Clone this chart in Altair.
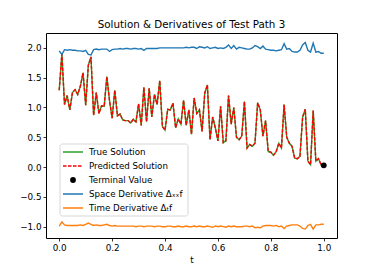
import altair as alt
import numpy as np
import pandas as pd

t = np.round(np.linspace(0.0, 1.0, 101), 2)

true_solution = [
    1.29, 1.90, 1.05, 1.20, 0.96, 1.25, 1.30, 1.22, 1.36, 1.58,
    1.04, 1.71, 1.85, 0.87, 1.25, 0.90, 1.03, 1.02, 1.52, 1.12,
    0.82, 1.29, 0.86, 0.89, 0.79, 0.78, 0.78, 0.74, 0.80, 0.76,
    1.06, 0.70, 1.34, 0.76, 1.32, 0.84, 1.22, 1.05, 1.45, 0.68,
    0.62, 0.97, 0.96, 1.07, 0.66, 0.81, 0.72, 1.12, 0.70, 0.96,
    0.55, 1.16, 0.90, 0.96, 0.60, 1.24, 1.38, 0.46, 0.84, 0.66,
    0.44, 1.02, 0.41, 0.44, 1.20, 0.72, 1.00, 0.50, 0.46, 0.52,
    1.10, 0.32, 0.38, 0.35, 0.40, 1.08, 0.96, 0.52, 0.78, 0.26,
    0.25, 0.20, 0.26, 0.40, 0.32, 1.05, 0.50, 0.40, 0.35, 0.15,
    0.14, 0.18, 0.84, 0.97, 0.10, 0.04, 0.95, 0.10, 0.14, 0.04,
    0.06,
]
predicted_solution = list(true_solution)

space_derivative = [
    1.95, 1.89, 1.97, 1.96, 1.97, 1.96, 1.96, 1.95, 1.95, 1.94,
    1.96, 1.89, 1.88, 1.97, 1.98, 1.97, 1.98, 1.98, 1.98, 1.94,
    1.97, 1.98, 1.98, 1.99, 1.98, 1.99, 1.99, 1.98, 1.99, 1.99,
    1.98, 1.99, 1.96, 1.99, 1.99, 1.99, 1.99, 1.99, 2.00, 2.00,
    2.00, 2.00, 2.00, 2.00, 2.00, 2.00, 2.00, 2.00, 2.01, 2.00,
    2.01, 2.01, 1.99, 2.02, 2.01, 2.00, 2.02, 1.99, 2.00, 2.01,
    1.99, 2.00, 1.99, 2.01, 2.05, 1.99, 2.04, 1.98, 2.01, 2.00,
    1.99, 1.98, 1.98, 2.00, 2.04, 2.02, 1.99, 2.03, 1.98, 1.97,
    1.96, 1.96, 1.95, 1.96, 1.97, 2.07, 1.98, 1.99, 1.94, 1.93,
    1.93, 1.96, 2.05, 2.09, 1.96, 1.93, 2.08, 1.93, 1.94, 1.91,
    1.91,
]

time_derivative = [
    -0.99, -0.92, -0.97, -0.98, -0.98, -0.98, -0.98, -0.98, -0.97, -0.98,
    -0.96, -0.94, -0.96, -0.98, -0.97, -0.98, -0.98, -0.97, -0.96, -0.98,
    -0.99, -0.98, -0.99, -0.99, -0.99, -0.99, -0.99, -0.99, -0.99, -1.00,
    -0.99, -0.99, -1.00, -0.99, -0.99, -0.99, -1.00, -0.99, -0.99, -1.00,
    -1.00, -0.99, -0.99, -1.00, -1.00, -0.99, -1.00, -1.00, -0.99, -1.00,
    -1.00, -0.99, -1.00, -0.99, -1.00, -1.00, -0.99, -1.00, -1.01, -0.99,
    -1.00, -0.99, -1.00, -1.01, -0.99, -1.00, -0.99, -1.00, -1.00, -1.00,
    -0.99, -0.99, -1.00, -0.99, -1.02, -1.01, -1.02, -0.99, -0.98, -0.98,
    -0.98, -0.99, -0.98, -1.00, -0.99, -1.03, -0.99, -0.98, -0.97, -0.97,
    -0.97, -0.99, -1.03, -1.04, -0.98, -0.96, -1.04, -0.97, -0.97, -0.96,
    -0.96,
]

terminal_t = [1.0]
terminal_value = [0.03]

series_names = [
    "True Solution",
    "Predicted Solution",
    "Terminal Value",
    "Space Derivative \u0394\u2093\u2093f",
    "Time Derivative \u0394\u209cf",
]
series_colors = ["#2ca02c", "#ff0000", "#000000", "#1f77b4", "#ff7f0e"]

x_ticks = [0.0, 0.2, 0.4, 0.6, 0.8, 1.0]
y_ticks = [-1.0, -0.5, 0.0, 0.5, 1.0, 1.5, 2.0]

FONT = "DejaVu Sans"
LW = 1.4
DASH = [3.5, 1.5]


def frame(values, tt=t):
    return pd.DataFrame({"t": tt, "value": values})


x_enc = alt.X(
    "t:Q",
    scale=alt.Scale(domain=[-0.05, 1.05], nice=False, zero=False),
    axis=alt.Axis(values=x_ticks, format=".1f", title="t"),
)
y_enc = alt.Y(
    "value:Q",
    scale=alt.Scale(domain=[-1.19, 2.25], nice=False, zero=False),
    axis=alt.Axis(values=y_ticks, format=".1f", title=None),
)

line_true = alt.Chart(frame(true_solution)).mark_line(
    strokeWidth=LW, color=series_colors[0]).encode(x=x_enc, y=y_enc)
line_pred = alt.Chart(frame(predicted_solution)).mark_line(
    strokeWidth=LW, strokeDash=DASH, color=series_colors[1]).encode(x=x_enc, y=y_enc)
pt_term = alt.Chart(frame(terminal_value, terminal_t)).mark_circle(
    size=34, opacity=1, color=series_colors[2]).encode(x=x_enc, y=y_enc)
line_space = alt.Chart(frame(space_derivative)).mark_line(
    strokeWidth=LW, color=series_colors[3]).encode(x=x_enc, y=y_enc)
line_time = alt.Chart(frame(time_derivative)).mark_line(
    strokeWidth=LW, color=series_colors[4]).encode(x=x_enc, y=y_enc)

# ---- legend (layout in plot-area pixels) ----
one = pd.DataFrame({"k": [0]})
LEG_X0, LEG_X1, LEG_Y0, LEG_Y1 = 14, 142, 111, 183
ROW0, ROW_STEP = 119, 14
SYM_X0, SYM_X1, LABEL_X = 17, 37, 43

legend_layers = [
    alt.Chart(one).mark_rect(
        fill="white", fillOpacity=0.85, stroke="#cccccc", strokeWidth=0.8, cornerRadius=2.5
    ).encode(
        x=alt.value(LEG_X0), x2=alt.value(LEG_X1), y=alt.value(LEG_Y0), y2=alt.value(LEG_Y1)
    )
]
for i, (name, col) in enumerate(zip(series_names, series_colors)):
    yy = ROW0 + i * ROW_STEP
    if name == "Terminal Value":
        sym = alt.Chart(one).mark_circle(size=34, opacity=1, color=col).encode(
            x=alt.value((SYM_X0 + SYM_X1) / 2), y=alt.value(yy))
    else:
        kw = {"strokeDash": DASH} if name == "Predicted Solution" else {}
        sym = alt.Chart(one).mark_rule(color=col, strokeWidth=1.5, **kw).encode(
            x=alt.value(SYM_X0), x2=alt.value(SYM_X1), y=alt.value(yy))
    lab = alt.Chart(pd.DataFrame({"label": [name]})).mark_text(
        font=FONT, fontSize=8.7, color="black", align="left", baseline="middle"
    ).encode(x=alt.value(LABEL_X), y=alt.value(yy), text="label:N")
    legend_layers += [sym, lab]

chart = (
    alt.layer(line_true, line_pred, pt_term, line_space, line_time, *legend_layers)
    .properties(
        width=291,
        height=205,
        autosize=alt.AutoSizeParams(type="none"),
        padding={"left": 38, "top": 25, "right": 21, "bottom": 27},
        title=alt.TitleParams(
            "Solution & Derivatives of Test Path 3",
            font=FONT,
            fontSize=10.3,
            fontWeight="normal",
            color="black",
            anchor="middle",
            baseline="alphabetic",
            offset=-1,
            dy=4,
        ),
    )
    .configure_view(stroke="black", strokeWidth=1)
    .configure_axis(
        domain=False,
        grid=False,
        labelFont=FONT,
        labelFontSize=8.8,
        labelColor="black",
        tickColor="black",
        tickSize=3,
        tickWidth=0.8,
        labelPadding=2,
        titleFont=FONT,
        titleFontSize=8.8,
        titleFontWeight="normal",
        titleColor="black",
        titlePadding=4,
    )
)

chart.save("out.html", embed_options={"renderer": "svg", "actions": False})
